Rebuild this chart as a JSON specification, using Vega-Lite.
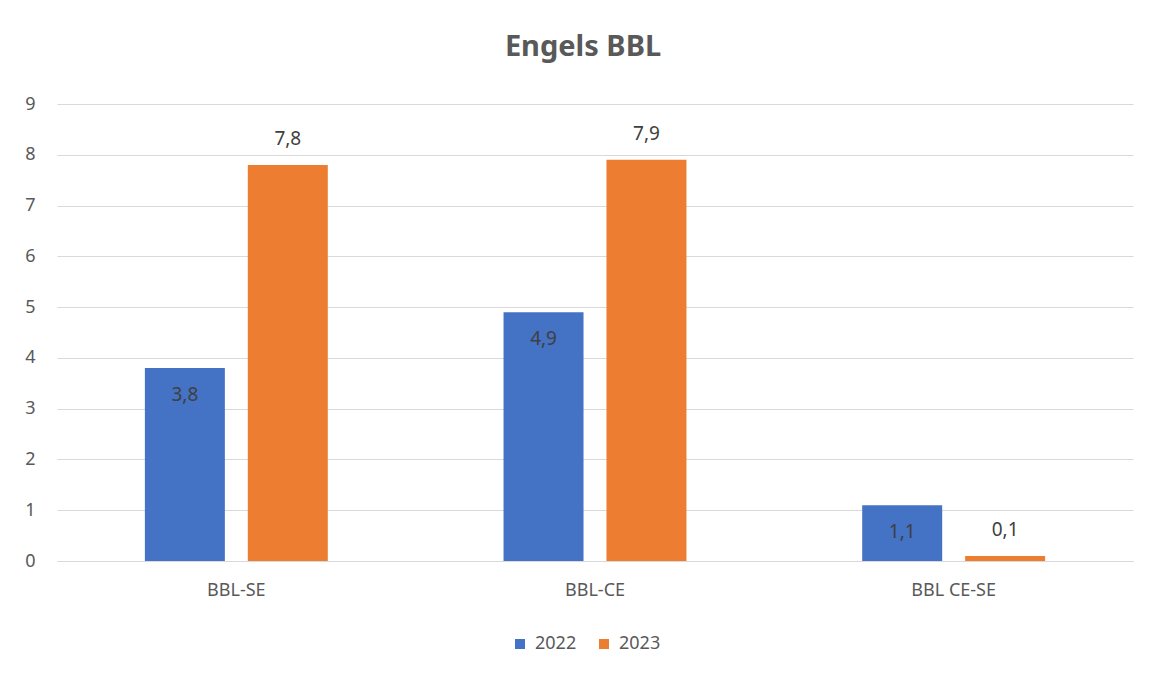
{
  "$schema": "https://vega.github.io/schema/vega-lite/v6.json",
  "width": 1076,
  "height": 457,
  "autosize": {"type": "none"},
  "padding": {"left": 57, "top": 104, "right": 19, "bottom": 119},
  "background": "white",
  "title": {
    "text": "Engels BBL",
    "font": "Noto Sans",
    "fontSize": 29,
    "fontWeight": "bold",
    "color": "#595959",
    "anchor": "middle",
    "offset": 33,
    "dx": -12
  },
  "config": {
    "font": "Noto Sans",
    "view": {"stroke": null},
    "locale": {
      "number": {"decimal": ",", "thousands": ".", "grouping": [3], "currency": ["€", ""]}
    }
  },
  "data": {
    "values": [
      {"categorie": "BBL-SE", "jaar": "2022", "waarde": 3.8},
      {"categorie": "BBL-SE", "jaar": "2023", "waarde": 7.8},
      {"categorie": "BBL-CE", "jaar": "2022", "waarde": 4.9},
      {"categorie": "BBL-CE", "jaar": "2023", "waarde": 7.9},
      {"categorie": "BBL CE-SE", "jaar": "2022", "waarde": 1.1},
      {"categorie": "BBL CE-SE", "jaar": "2023", "waarde": 0.1}
    ]
  },
  "encoding": {
    "x": {
      "field": "categorie",
      "type": "nominal",
      "sort": ["BBL-SE", "BBL-CE", "BBL CE-SE"],
      "scale": {"paddingInner": 0.49, "paddingOuter": 0.245},
      "axis": {
        "title": null,
        "labelAngle": 0,
        "labelFont": "Noto Sans",
        "labelFontSize": 18,
        "labelColor": "#595959",
        "labelPadding": 20,
        "ticks": false,
        "domainColor": "#d9d9d9",
        "domainWidth": 1
      }
    },
    "xOffset": {
      "field": "jaar",
      "type": "nominal",
      "scale": {"paddingInner": 0.223, "paddingOuter": 0}
    },
    "y": {
      "field": "waarde",
      "type": "quantitative",
      "scale": {"domain": [0, 9], "nice": false},
      "axis": {
        "title": null,
        "values": [0, 1, 2, 3, 4, 5, 6, 7, 8, 9],
        "labelOverlap": false,
        "format": "d",
        "domain": false,
        "ticks": false,
        "labelPadding": 22,
        "labelFont": "Noto Sans",
        "labelFontSize": 18,
        "labelColor": "#595959",
        "gridColor": "#d9d9d9",
        "gridWidth": 1
      }
    }
  },
  "layer": [
    {
      "mark": {"type": "bar"},
      "encoding": {
        "color": {
          "field": "jaar",
          "type": "nominal",
          "scale": {"domain": ["2022", "2023"], "range": ["#4472C4", "#ED7D31"]},
          "legend": {
            "title": null,
            "orient": "none",
            "direction": "horizontal",
            "legendX": 454,
            "legendY": 531,
            "symbolType": "square",
            "symbolSize": 100,
            "symbolStrokeWidth": 0,
            "labelFont": "Noto Sans",
            "labelFontSize": 18,
            "labelColor": "#595959",
            "labelOffset": 6,
            "columnPadding": 18
          }
        }
      }
    },
    {
      "transform": [{"filter": "datum.jaar === '2022'"}],
      "mark": {"type": "text", "baseline": "middle", "dy": 27, "fontSize": 19, "color": "#404040", "font": "Noto Sans"},
      "encoding": {
        "text": {"field": "waarde", "type": "quantitative", "format": ".1f"}
      }
    },
    {
      "transform": [{"filter": "datum.jaar === '2023'"}],
      "mark": {"type": "text", "baseline": "middle", "dy": -26, "fontSize": 19, "color": "#404040", "font": "Noto Sans"},
      "encoding": {
        "text": {"field": "waarde", "type": "quantitative", "format": ".1f"}
      }
    }
  ]
}
